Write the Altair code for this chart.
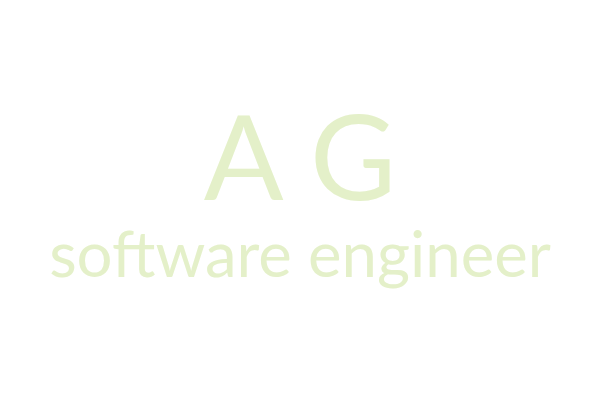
import altair as alt
import pandas as pd

labels = ["A G", "software engineer"]
sizes = [118, 63.5]
rows = [0, 1]

df = pd.DataFrame({"label": labels, "size": sizes, "row": rows})

base = alt.Chart(df).mark_text(
    font="Lato", color="#e4f0c9", baseline="alphabetic", align="center"
).encode(
    x=alt.value(292),
    y=alt.Y("row:Q", scale=alt.Scale(domain=[0, 1], range=[192, 269]), axis=None),
    text="label:N",
    size=alt.Size("size:Q", scale=None, legend=None),
)

chart = base.properties(
    width=575, height=385, autosize=alt.AutoSizeParams(type="none"), padding=0
).configure_view(stroke=None)

chart.save("out.html", embed_options={"renderer": "svg", "actions": False})
